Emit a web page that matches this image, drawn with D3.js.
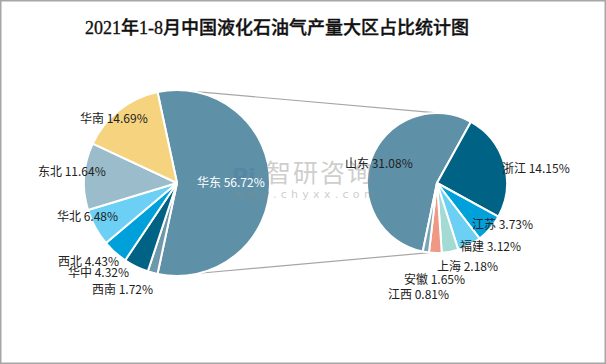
<!DOCTYPE html>
<html><head><meta charset="utf-8">
<script src="https://cdn.jsdelivr.net/npm/d3@7"></script>
<style>html,body{margin:0;padding:0;background:#fff}svg{display:block}</style>
</head><body><svg id="c" width="606" height="364"></svg>
<script>
// ---- data ----
const title = "2021年1-8月中国液化石油气产量大区占比统计图";
const regions = ["华东", "西南", "华中", "西北", "华北", "东北", "华南"];
const regionValues = [56.72, 1.72, 4.32, 4.43, 6.48, 11.64, 14.69];
const provinces = ["山东", "浙江", "江苏", "福建", "上海", "安徽", "江西"];
const provinceValues = [31.08, 14.15, 3.73, 3.12, 2.18, 1.65, 0.81];

// ---- layout / style ----
const W = 606, H = 364;
const regionColors = ["#5e91a7", "#6e98ab", "#006284", "#00a1da", "#6ccff4", "#9bbccb", "#f6d37e"];
const provinceColors = ["#5e91a7", "#006284", "#00a1da", "#6ccff4", "#a3dbd4", "#ef9884", "#7ba3b5"];
const L = {cx: 177, cy: 183, r: 93};
const R = {cx: 437, cy: 183, r: 70};
// label anchor offsets (start of text, vertical middle) relative to pie centre
const regionLabelOff = [[20, 0], [-85, 107], [-109, 90], [-119, 79], [-120, 34], [-139, -11], [-97, -64]];
const provinceLabelOff = [[-92, -19], [65, -14], [35, 42], [23, 64], [0, 84], [-33, 97], [-49, 112]];

const svg = d3.select("#c");
svg.append("rect").attr("x", 0.75).attr("y", 0.75).attr("width", W - 1.5).attr("height", H - 1.5)
  .attr("fill", "#fff").attr("stroke", "#a6a6a6").attr("stroke-width", 1.5);

svg.append("text").attr("x", 277).attr("y", 34).attr("text-anchor", "middle")
  .attr("font-family", "'Liberation Serif','Noto Sans CJK SC',serif").attr("font-size", 18)
  .attr("font-weight", 500).attr("fill", "#111").attr("stroke", "#111").attr("stroke-width", 0.35)
  .text(title);

const fmt = v => v.toFixed(2) + "%";
const deg = Math.PI / 180;

// left pie: first slice centred on the right side
const total = d3.sum(regionValues);
const firstAng = regionValues[0] / total * 2 * Math.PI;
const pieL = d3.pie().sort(null).value(d => d)
  .startAngle(Math.PI / 2 - firstAng / 2).endAngle(Math.PI / 2 - firstAng / 2 + 2 * Math.PI);
const arcsL = pieL(regionValues);

// right pie: second slice (浙江) starts at ~29deg
const ptotal = d3.sum(provinceValues);
const pFirst = provinceValues[0] / ptotal * 2 * Math.PI;
const pieR = d3.pie().sort(null).value(d => d)
  .startAngle(29 * deg - pFirst).endAngle(29 * deg - pFirst + 2 * Math.PI);
const arcsR = pieR(provinceValues);

// connector lines
const pol = (c, a, r) => [c.cx + r * Math.sin(a), c.cy - r * Math.cos(a)];
const g0 = svg.append("g");
const lt = pol(L, arcsL[0].startAngle + 22 * deg, L.r), rt = pol(R, 2 * deg, R.r);
const lb = pol(L, arcsL[0].endAngle - 26 * deg, L.r), rb = pol(R, 186 * deg, R.r);
g0.append("line").attr("x1", lt[0]).attr("y1", lt[1]).attr("x2", rt[0]).attr("y2", rt[1])
  .attr("stroke", "#a6a6a6").attr("stroke-width", 1.2);
g0.append("line").attr("x1", lb[0]).attr("y1", lb[1]).attr("x2", rb[0]).attr("y2", rb[1])
  .attr("stroke", "#a6a6a6").attr("stroke-width", 1.2);

const arcL = d3.arc().innerRadius(0).outerRadius(L.r);
const arcR = d3.arc().innerRadius(0).outerRadius(R.r);

svg.append("g").attr("transform", `translate(${L.cx},${L.cy})`)
  .selectAll("path").data(arcsL).join("path")
  .attr("d", arcL).attr("fill", (d, i) => regionColors[i])
  .attr("stroke", "#fff").attr("stroke-width", 2).attr("stroke-linejoin", "round");

svg.append("g").attr("transform", `translate(${R.cx},${R.cy})`)
  .selectAll("path").data(arcsR).join("path")
  .attr("d", arcR).attr("fill", (d, i) => provinceColors[i])
  .attr("stroke", "#fff").attr("stroke-width", 2).attr("stroke-linejoin", "round");

// watermark
const wm = svg.append("g").attr("opacity", 0.42);
wm.append("text").attr("x", 232).attr("y", 184).attr("font-family", "Verdana,'DejaVu Sans',sans-serif")
  .attr("font-size", 22).attr("font-weight", "bold").attr("fill", "#4f7aa0").text("Pi");
wm.append("text").attr("x", 266).attr("y", 182).attr("font-family", "'Noto Sans CJK SC',sans-serif")
  .attr("font-size", 25).attr("letter-spacing", 2).attr("fill", "#8c8c8c").text("智研咨询");
wm.append("text").attr("x", 234).attr("y", 198).attr("font-family", "'DejaVu Sans',sans-serif")
  .attr("font-size", 11).attr("letter-spacing", 4.3).attr("fill", "#8c8c8c").text("www.chyxx.com");

// labels
const lf = "'Noto Sans CJK SC','Microsoft YaHei',sans-serif";
svg.append("g").selectAll("text").data(arcsL).join("text")
  .attr("x", (d, i) => L.cx + regionLabelOff[i][0]).attr("y", (d, i) => L.cy + regionLabelOff[i][1])
  .attr("dy", "0.35em").attr("font-family", lf).attr("font-size", 12)
  .attr("fill", (d, i) => i === 0 ? "#fff" : "#222")
  .text((d, i) => regions[i] + " " + fmt(d.data));

svg.append("g").selectAll("text").data(arcsR).join("text")
  .attr("x", (d, i) => R.cx + provinceLabelOff[i][0]).attr("y", (d, i) => R.cy + provinceLabelOff[i][1])
  .attr("dy", "0.35em").attr("font-family", lf).attr("font-size", 12).attr("fill", "#222")
  .text((d, i) => provinces[i] + " " + fmt(d.data));
</script></body></html>
